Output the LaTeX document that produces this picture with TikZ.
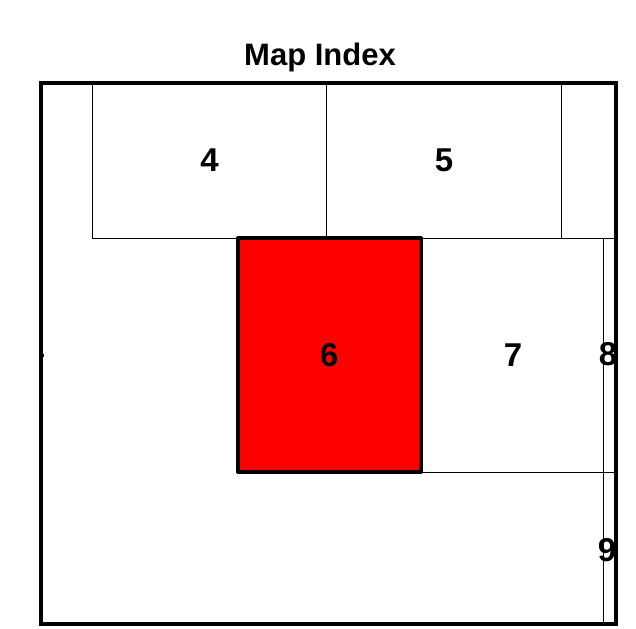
\documentclass[tikz,border=0pt]{standalone}
\usepackage{fontspec}
\setmainfont{Liberation Sans}
\begin{document}
\begin{tikzpicture}[x=1pt,y=-1pt,
  tileline/.style={draw=black,line width=1pt},
  framebox/.style={draw=black,line width=3.5pt},
  selbox/.style={draw=black,fill=red,line width=4pt,line join=round},
  tilelabel/.style={font=\fontsize{33}{33}\selectfont\bfseries,inner sep=0pt,anchor=center},
  titlelabel/.style={font=\fontsize{31}{31}\selectfont\bfseries,inner sep=0pt,anchor=base}]
\useasboundingbox (0,0) rectangle (636,628);
\fill[white] (0,0) rectangle (636,628);
% tile grid
\draw[tileline] (92,83) -- (92,238) -- (616,238);
\draw[tileline] (326,83) -- (326,238);
\draw[tileline] (561,83) -- (561,238);
\draw[tileline] (603,238) -- (603,624);
\draw[tileline] (421,472) -- (616,472);
% selected tile
\draw[selbox] (238,238) rectangle (421,472);
% labels
\node[titlelabel] (title) at (320,66) {Map Index};
\node[tilelabel] (t4) at (209.5,160) {4};
\node[tilelabel] (t5) at (444,160) {5};
\node[tilelabel] (t6) at (329,355) {6};
\node[tilelabel] (t7) at (513,355) {7};
\node[tilelabel] (t8) at (608,354) {8};
\node[tilelabel] (t9) at (607,550) {9};
% frame
\draw[framebox] (41,83) rectangle (616,624);
\draw[line width=3pt] (39,355.5) -- (44,355.5);
\end{tikzpicture}
\end{document}
